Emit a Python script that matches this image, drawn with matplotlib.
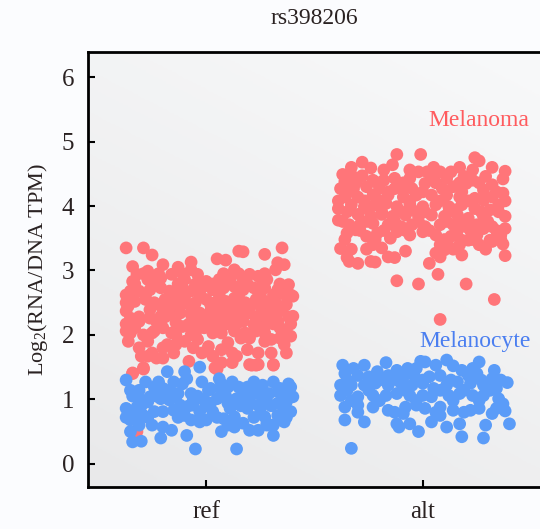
import numpy as np
import matplotlib
matplotlib.use("Agg")
import matplotlib.pyplot as plt
from matplotlib.colors import LinearSegmentedColormap

plt.rcParams['font.family'] = ['Liberation Serif', 'DejaVu Serif']
plt.rcParams['mathtext.fontset'] = 'custom'
plt.rcParams['mathtext.rm'] = 'Liberation Serif'

title = "rs398206"
categories = ["ref", "alt"]
ylabel = r'Log$_\mathregular{2}$(RNA/DNA TPM)'
yticks = [0, 1, 2, 3, 4, 5, 6]

# ---- ref / Melanoma (jitter offset, value)
ref_mel_x = [-0.37, -0.29, -0.25, 0.05, 0.09, 0.15, 0.17, 0.27, 0.35, -0.34, -0.20, -0.07, -0.07, -0.13,
             -0.04, 0.00, 0.06, 0.13, 0.20, 0.24, 0.32, 0.36, 0.33, 0.38, 0.40, 0.40, 0.39, 0.36, 0.31,
             0.24, 0.20, 0.24, 0.19, 0.14, 0.12, 0.07, 0.03, 0.04, -0.08, -0.20, -0.23, -0.27, -0.30,
             -0.31, -0.29, -0.34, -0.37, -0.37, -0.37, -0.35, -0.34, -0.32, -0.27, -0.24, -0.16, -0.20,
             -0.18, -0.10, -0.04, 0.01, 0.10, 0.16, 0.30, 0.34, 0.27, 0.22, 0.17, 0.11, 0.07, 0.02,
             -0.01, -0.06, -0.11, -0.14, -0.20, -0.24, -0.29, -0.33, -0.31, -0.26, -0.21, -0.17, -0.12,
             -0.07, -0.03, 0.02, 0.07, 0.11, 0.16, 0.20, 0.25, 0.30, 0.34, 0.37, 0.32, 0.27, 0.23, 0.18,
             0.13, 0.09, 0.04, -0.00, -0.05, -0.10, -0.14, -0.19, -0.24, -0.28, -0.33, -0.31, -0.26,
             -0.21, -0.17, -0.11, -0.07, -0.02, 0.03, 0.08, 0.13, 0.17, 0.22, 0.27, 0.33, 0.36, -0.27,
             -0.21, -0.10, 0.11, 0.17, 0.28, -0.35, -0.36, -0.27, -0.14, -0.06, 0.07, 0.20, 0.27, 0.34,
             -0.26, -0.17, -0.07, 0.02, 0.11, 0.20, 0.30, -0.23, -0.14, -0.04, 0.05, 0.14, 0.23, 0.33,
             -0.07, 0.03, 0.13, 0.23, -0.34, -0.29, 0.05, 0.21, 0.23, 0.31, -0.32,
             -0.35, -0.25, -0.16, -0.05, 0.07, 0.18, 0.27, 0.37,
             -0.31, -0.19, -0.02, 0.09, 0.28, 0.38,
             -0.37, -0.28, -0.14, -0.03, 0.06, 0.15, 0.25, 0.31, 0.39,
             -0.33, -0.25, -0.13, -0.05, 0.03, 0.10, 0.19, 0.26, 0.34,
             -0.29, -0.22, -0.11, 0.08, 0.15, 0.27,
             -0.25, -0.15, -0.02, 0.12, 0.30, 0.37,
             -0.36, -0.21, -0.12, 0.06, 0.15, 0.25, 0.36,
             -0.37, -0.08, 0.03, 0.14, 0.31, 0.39]
ref_mel_y = [3.35, 3.35, 3.24, 3.18, 3.16, 3.30, 3.29, 3.25, 3.35, 3.06, 3.09, 3.13, 3.01, 3.05,
             2.94, 2.83, 2.86, 3.01, 2.94, 2.91, 3.01, 3.09, 3.12, 2.78, 2.60, 2.29, 1.98, 1.85, 1.54,
             1.54, 1.54, 1.72, 1.77, 1.67, 1.57, 1.57, 1.67, 1.49, 1.59, 1.64, 1.64, 1.67, 1.67,
             1.80, 1.49, 1.41, 2.06, 2.37, 2.50, 2.68, 2.83, 2.94, 2.99, 2.88, 2.94, 1.80,
             1.85, 1.90, 1.93, 1.82, 1.88, 1.95, 1.93, 2.11, 2.13, 2.16, 2.21, 2.16, 2.13, 2.21,
             2.11, 2.16, 2.13, 2.00, 2.11, 2.06, 2.00, 2.11, 2.21, 2.26, 2.29, 2.32, 2.34,
             2.32, 2.34, 2.37, 2.39, 2.34, 2.32, 2.34, 2.32, 2.26, 2.37, 2.47, 2.50, 2.52, 2.55, 2.50,
             2.57, 2.52, 2.50, 2.55, 2.50, 2.57, 2.52, 2.55, 2.50, 2.55, 2.52, 2.68, 2.70,
             2.73, 2.68, 2.73, 2.68, 2.73, 2.70, 2.73, 2.75, 2.70, 2.73, 2.73, 2.70, 2.63, 2.86,
             2.88, 2.86, 2.86, 2.86, 2.86, 2.26, 1.90, 1.90, 1.85, 1.80, 1.77, 1.95, 1.90, 1.95,
             2.39, 2.42, 2.44, 2.47, 2.44, 2.42, 2.39, 2.21, 2.19, 2.24, 2.26, 2.24, 2.24, 2.21,
             2.00, 2.03, 2.06, 2.06, 1.40, 1.47, 1.47, 1.53, 1.53, 1.53, 0.50,
             2.03, 2.03, 2.03, 2.03, 2.03, 2.03, 2.03, 2.03,
             2.28, 2.28, 2.28, 2.28, 2.28, 2.28,
             2.62, 2.62, 2.62, 2.62, 2.62, 2.62, 2.62, 2.62, 2.62,
             2.79, 2.79, 2.79, 2.79, 2.79, 2.79, 2.79, 2.79, 2.79,
             2.95, 2.95, 2.95, 2.95, 2.95, 2.95,
             1.72, 1.72, 1.72, 1.72, 1.72, 1.72,
             2.45, 2.45, 2.45, 2.45, 2.45, 2.45, 2.45,
             2.17, 2.17, 2.17, 2.17, 2.17, 2.17]

# ---- ref / Melanocyte
ref_cyt_x = [-0.03, -0.18, -0.10, -0.09, -0.11, -0.37, -0.22, -0.24, -0.35, -0.31, 0.06, 0.07, 0.10,
             0.15, 0.19, 0.26, 0.38, 0.39, 0.01, -0.07, -0.13, 0.29, 0.33, 0.40, -0.37, -0.32, -0.27,
             -0.21, -0.17, -0.12, -0.06, -0.01, 0.05, 0.10, 0.14, 0.20, 0.24, 0.28, 0.33, 0.37, 0.39,
             0.36, 0.31, 0.28, 0.24, 0.20, 0.17, 0.13, 0.13, 0.08, 0.07, 0.03, -0.00, -0.03, -0.07,
             -0.10, -0.15, -0.20, -0.20, -0.16, -0.25, -0.29, -0.35, -0.35, -0.34, -0.30, -0.21, -0.09,
             -0.05, 0.14, 0.31, 0.27, 0.33, 0.19, 0.11, -0.03, -0.24, -0.33, -0.30, 0.07, 0.24, -0.06,
             -0.17, -0.26, 0.02, 0.25, 0.36,
             -0.28, -0.15, -0.02, 0.12, 0.22, 0.31,
             -0.34, -0.23, -0.14, -0.04, 0.09, 0.17, 0.27, 0.36,
             -0.30, -0.08, 0.00, 0.16, 0.30,
             -0.37, -0.27, -0.13, 0.05, 0.22, 0.37,
             -0.31, 0.10, 0.28,
             -0.20, 0.02, 0.22, 0.34]
ref_cyt_y = [1.50, 1.43, 1.43, 1.32, 1.24, 1.30, 1.27, 1.19, 1.14, 1.14, 1.32, 1.24, 1.19,
             1.19, 1.19, 1.22, 1.24, 1.19, 1.14, 1.09, 1.09, 1.09, 1.12, 1.04, 0.86, 0.88, 0.96,
             1.01, 0.99, 0.91, 0.91, 0.99, 1.01, 0.94, 1.01, 1.01, 0.91, 0.96, 0.94, 0.96, 0.81,
             0.65, 0.60, 0.63, 0.52, 0.52, 0.63, 0.57, 0.73, 0.70, 0.50, 0.81, 0.68, 0.65, 0.68,
             0.75, 0.83, 0.81, 0.57, 0.52, 0.60, 0.75, 0.68, 0.50, 0.34, 0.35, 0.40, 0.44,
             0.23, 0.23, 0.44, 0.73, 0.75, 0.86, 0.86, 0.81, 0.81, 0.75, 0.99, 1.12, 1.09, 1.01,
             1.14, 1.04, 0.94, 0.86, 0.83,
             1.27, 1.27, 1.27, 1.27, 1.27, 1.27,
             1.05, 1.05, 1.05, 1.05, 1.05, 1.05, 1.05, 1.05,
             0.90, 0.90, 0.90, 0.90, 0.90,
             0.72, 0.72, 0.72, 0.72, 0.72, 0.72,
             0.60, 0.60, 0.60,
             1.17, 1.17, 1.17, 1.17]

# ---- alt / Melanoma
alt_mel_x = [-0.12, -0.01, 0.24, 0.26, -0.28, -0.14, -0.24, -0.18, 0.38, 0.37, -0.37, -0.33, -0.28,
             -0.06, -0.02, 0.02, 0.08, 0.13, 0.23, 0.29, 0.19, -0.06, -0.13, -0.23, -0.18, -0.36,
             -0.38, -0.32, -0.26, -0.20, -0.13, -0.05, 0.01, 0.09, 0.14, 0.20, 0.23, 0.28, 0.32, 0.37,
             -0.36, -0.30, -0.23, -0.16, -0.09, -0.03, 0.04, 0.11, 0.17, 0.24, 0.28, 0.35, -0.39, -0.33,
             -0.27, -0.22, -0.17, -0.12, -0.06, -0.00, 0.06, 0.12, 0.18, 0.24, 0.31, -0.30, -0.24,
             -0.19, -0.14, -0.08, -0.02, 0.04, 0.10, 0.16, 0.21, 0.28, 0.38, -0.39, -0.34, -0.29,
             -0.23, -0.16, -0.10, -0.05, 0.01, 0.08, 0.14, 0.20, 0.25, 0.32, 0.38, -0.35, -0.26, -0.21,
             -0.15, -0.12, -0.00, 0.06, 0.13, 0.18, 0.25, 0.31, 0.36, -0.23, -0.19, -0.08, 0.08, 0.10,
             0.12, 0.17, 0.21, 0.26, 0.32, 0.37, 0.38, -0.38, -0.35, -0.34, -0.30, -0.24, -0.22, -0.16,
             -0.13, 0.06, 0.08, 0.18, 0.03, 0.07, -0.12, -0.02, 0.20, 0.33, 0.08, -0.09, 0.04, 0.11,
             0.32, -0.25, -0.05, 0.15, 0.28, -0.31, -0.06,
             -0.33, 0.05, 0.17, 0.32,
             -0.31, -0.21, -0.09, 0.06, 0.17, 0.26,
             -0.34, -0.16, 0.00, 0.18, 0.34,
             -0.39, -0.27, -0.20, -0.06, 0.08, 0.21, 0.38,
             -0.35, -0.19, -0.10, 0.01, 0.12, 0.27, 0.35,
             -0.37, -0.26, -0.13, -0.02, 0.11, 0.17, 0.30,
             -0.29, -0.18, -0.08, 0.03, 0.16, 0.22, 0.34,
             -0.36, -0.22, 0.10, 0.23, 0.36,
             -0.33, -0.26, 0.14, 0.29]
alt_mel_y = [4.80, 4.80, 4.75, 4.70, 4.68, 4.64, 4.59, 4.56, 4.54, 4.42, 4.49, 4.48, 4.47,
             4.56, 4.53, 4.53, 4.53, 4.53, 4.56, 4.46, 4.46, 4.43, 4.43, 4.40, 4.40, 4.38,
             4.27, 4.27, 4.30, 4.27, 4.27, 4.27, 4.35, 4.27, 4.30, 4.35, 4.40, 4.25, 4.14, 4.20,
             4.14, 4.14, 4.17, 4.17, 4.14, 4.17, 4.17, 4.17, 4.14, 4.12, 4.09, 4.02, 3.96, 4.02,
             3.99, 4.02, 4.04, 3.99, 4.02, 3.99, 4.02, 3.99, 4.02, 3.96, 3.94, 3.87, 3.84,
             3.87, 3.84, 3.86, 3.84, 3.86, 3.84, 3.86, 3.81, 3.84, 3.84, 3.78, 3.71, 3.71,
             3.73, 3.71, 3.68, 3.71, 3.68, 3.71, 3.71, 3.68, 3.71, 3.68, 3.65, 3.58, 3.53, 3.58,
             3.50, 3.60, 3.60, 3.55, 3.53, 3.47, 3.55, 3.47, 3.55, 3.40, 3.35, 3.30, 3.40, 3.32,
             3.37, 3.40, 3.47, 3.40, 3.45, 3.41, 3.23, 3.34, 3.20, 3.14, 3.11, 3.14, 3.13, 3.21,
             3.20, 3.27, 3.21, 3.24, 3.11, 2.94, 2.84, 2.79, 2.79, 2.55, 2.24, 4.27, 4.46, 4.43,
             4.33, 3.94, 3.94, 3.94, 3.65, 3.63, 3.55,
             4.60, 4.60, 4.60, 4.60,
             4.36, 4.36, 4.36, 4.36, 4.36, 4.36,
             4.22, 4.22, 4.22, 4.22, 4.22,
             4.08, 4.08, 4.08, 4.08, 4.08, 4.08, 4.08,
             3.91, 3.91, 3.91, 3.91, 3.91, 3.91, 3.91,
             3.76, 3.76, 3.76, 3.76, 3.76, 3.76, 3.76,
             3.62, 3.62, 3.62, 3.62, 3.62, 3.62, 3.62,
             3.48, 3.48, 3.48, 3.48, 3.48,
             3.33, 3.33, 3.33, 3.33]

# ---- alt / Melanocyte
alt_cyt_x = [-0.37, -0.27, -0.17, -0.01, 0.01, 0.11, 0.26, 0.14, 0.06, -0.07, -0.12, -0.21, -0.36,
             -0.30, -0.25, -0.16, -0.09, -0.04, 0.03, 0.08, 0.18, 0.21, 0.25, 0.33, 0.32, 0.39, -0.38,
             -0.33, -0.27, -0.22, -0.16, -0.10, -0.05, 0.00, 0.05, 0.11, 0.16, 0.22, 0.28, 0.34, -0.38,
             -0.30, -0.23, -0.17, -0.12, -0.06, 0.00, 0.04, 0.12, 0.17, 0.23, 0.28, 0.35, 0.37, -0.36,
             -0.23, -0.16, -0.08, -0.03, 0.01, 0.08, 0.14, 0.22, 0.26, 0.32, 0.38, -0.36, -0.27, -0.12,
             -0.09, -0.06, -0.02, 0.04, 0.11, 0.17, 0.18, 0.28, 0.29, 0.40, -0.33, -0.11, 0.08, -0.30,
             0.34,
             -0.32, -0.03, 0.23,
             -0.35, -0.20, -0.12, 0.00, 0.13, 0.27, 0.36,
             -0.35, -0.25, -0.08, 0.08, 0.19, 0.31,
             -0.33, -0.20, -0.03, 0.14, 0.26,
             -0.30, -0.13, 0.06, 0.19]
alt_cyt_y = [1.53, 1.53, 1.57, 1.59, 1.58, 1.61, 1.58, 1.52, 1.53, 1.48, 1.45, 1.43, 1.40,
             1.37, 1.35, 1.37, 1.35, 1.37, 1.35, 1.37, 1.45, 1.37, 1.40, 1.45, 1.32, 1.26, 1.22,
             1.22, 1.22, 1.25, 1.22, 1.25, 1.22, 1.25, 1.17, 1.22, 1.27, 1.25, 1.22, 1.17, 1.06,
             1.04, 1.06, 1.06, 1.09, 1.06, 1.06, 1.04, 1.06, 1.09, 1.06, 1.06, 1.01, 0.93, 0.88,
             0.88, 0.83, 0.88, 0.91, 0.86, 0.88, 0.83, 0.83, 0.86, 0.78, 0.82, 0.68, 0.65, 0.62,
             0.78, 0.62, 0.50, 0.65, 0.57, 0.62, 0.42, 0.40, 0.60, 0.62, 0.24, 0.57, 0.75, 0.91,
             0.86,
             1.48, 1.48, 1.48,
             1.30, 1.30, 1.30, 1.30, 1.30, 1.30, 1.30,
             1.14, 1.14, 1.14, 1.14, 1.14, 1.14,
             0.98, 0.98, 0.98, 0.98, 0.98,
             0.80, 0.80, 0.80, 0.80]

red = '#ff7579'
blue = '#5b9cf8'

fig = plt.figure(figsize=(5.40, 5.29), dpi=100, facecolor='#fbfcfe')
ax = fig.add_axes([88/540, 42/529, 1 - 88/540 + 0.002, (487 - 52)/529])

# gradient background
gx, gy = np.meshgrid(np.linspace(0, 1, 200), np.linspace(0, 1, 200))
t = 0.35 * gx + 0.65 * gy
cmap = LinearSegmentedColormap.from_list('bg', ['#e9e9ea', '#f8f9fa'])
ax.imshow(t, cmap=cmap, extent=(0, 1, 0, 1), origin='lower', transform=ax.transAxes,
          aspect='auto', zorder=0, interpolation='bilinear')
ax.set_facecolor('none')

ms = 84
ax.scatter(np.array(ref_mel_x) + 0, ref_mel_y, s=ms, color=red, edgecolors='none', zorder=2)
ax.scatter(np.array(alt_mel_x) + 1, alt_mel_y, s=ms, color=red, edgecolors='none', zorder=2)
ax.scatter(np.array(ref_cyt_x) + 0, ref_cyt_y, s=ms, color=blue, edgecolors='none', zorder=3)
ax.scatter(np.array(alt_cyt_x) + 1, alt_cyt_y, s=ms, color=blue, edgecolors='none', zorder=3)

ax.text(1.26, 5.33, 'Melanoma', color='#ff5b5e', fontsize=17, ha='center', va='center')
ax.text(1.24, 1.90, 'Melanocyte', color='#4a7ef0', fontsize=17, ha='center', va='center')

ax.set_xlim(-0.546, 1.546)
ax.set_ylim(-0.36, 6.39)
ax.set_xticks([0, 1])
ax.set_xticklabels(categories)
ax.set_yticks(yticks)
ax.tick_params(direction='in', length=5, width=1.5, labelsize=18, colors='black',
               labelcolor='#2a2222', pad=10)
for s in ['left', 'bottom', 'top']:
    ax.spines[s].set_linewidth(2)
    ax.spines[s].set_color('black')
ax.spines['right'].set_visible(False)

ax.set_ylabel(ylabel, fontsize=16, color='#2a2222', labelpad=8)
ax.set_title(title, fontsize=17, color='#2a2222', pad=20)

fig.savefig('out.png', dpi=100, facecolor=fig.get_facecolor())
